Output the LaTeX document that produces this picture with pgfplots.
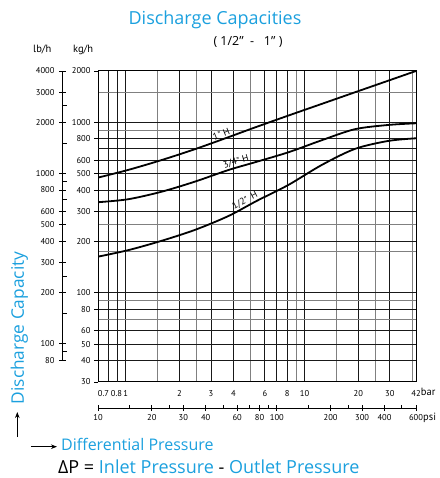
\documentclass[border=0pt]{standalone}
\usepackage{pgfplots}
\pgfplotsset{compat=1.18}
\usepackage{fontspec}
\setmainfont{Open Sans}
\newfontfamily\ptsans{PT Sans}
\usetikzlibrary{arrows.meta}
\definecolor{capblue}{RGB}{27,160,222}
\begin{document}
\begin{tikzpicture}
\useasboundingbox (-98pt,-96pt) rectangle (341pt,382pt);
% ---------------- main chart (bar / kg/h) ----------------
\begin{axis}[
  name=main, at={(0pt,0pt)}, anchor=south west,
  scale only axis, width=318pt, height=311pt,
  xmode=log, ymode=log, xmin=0.7, xmax=42, ymin=30, ymax=2000,
  xtick={0.7,0.8,1,2,3,4,6,8,10,20,30,42},
  xticklabels={\makebox[0pt][l]{0.7},\makebox[0pt][l]{\hspace{2.5pt}0.8},1,2,3,4,6,8,10,20,30,42},
  minor xtick={1.5,2.5,5,9,15,25,40},
  extra x ticks={0.9,7}, extra x tick labels={},
  extra x tick style={grid=major, major tick length=0pt},
  ytick={30,40,50,60,80,100,200,300,400,500,600,800,1000,2000},
  yticklabels={30,40,50,60,80,100,200,300,400,500,600,800,1000,2000},
  minor ytick={70,90,175,250,900,1500},
  extra y ticks={700}, extra y tick labels={},
  extra y tick style={grid=major, major tick length=0pt},
  grid=both,
  major grid style={black!90, line width=1pt},
  minor grid style={black!50, line width=1pt},
  minor tick length=0pt,
  tick align=outside, major tick length=4pt,
  xtick style={draw=none},
  ytick pos=left,
  ytick style={black, line width=0.9pt},
  axis line style={black, line width=1pt},
  tick label style={font=\ptsans\fontsize{8.5}{9}\selectfont},
  xticklabel style={yshift=-1pt},
]
\addplot[black, line width=1.8pt, smooth] coordinates {
 (0.7,474) (1.034,526) (1.59,601) (2.44,696) (3.75,818) (5.28,933)
 (8.11,1095) (12.47,1282) (19.1,1499) (29.4,1755) (42,2000)};
\addplot[black, line width=1.8pt, smooth] coordinates {
 (0.7,340) (1.034,354) (1.59,392) (2.44,449) (3.75,525) (5.28,583)
 (8.11,667) (12.47,785) (19.1,911) (29.4,965) (42,987)};
\addplot[black, line width=1.8pt, smooth] coordinates {
 (0.7,163) (1.034,178) (1.59,202) (2.44,234) (3.75,282) (5.4,346)
 (8.11,429) (12.47,562) (19.1,698) (29.4,778) (42,806)};
\node[rotate=22, anchor=south, font=\ptsans\fontsize{9.5}{9.5}\selectfont, inner sep=1.2pt] at (axis cs:3.5,800) {1" H};
\node[rotate=16, anchor=south, font=\ptsans\fontsize{9.5}{9.5}\selectfont, inner sep=1.2pt] at (axis cs:4.22,544) {3/4" H};
\node[rotate=28, anchor=south, font=\ptsans\fontsize{9.5}{9.5}\selectfont, inner sep=1.2pt] at (axis cs:4.8,324) {1/2"\hspace{4pt}H};
\end{axis}
% ---------------- lb/h scale ----------------
\begin{axis}[
  at={(-35pt,21.7pt)}, anchor=south west,
  scale only axis, width=10pt, height=289.3pt,
  ymode=log, ymin=80, ymax=4000, xmin=0, xmax=1,
  hide x axis, axis y line*=left,
  ytick={80,100,200,300,400,500,600,800,1000,2000,3000,4000},
  yticklabels={80,100,200,300,400,500,600,800,1000,2000,3000,4000},
  minor ytick={90,150,250,700,900,1500,2500},
  tick align=center, major tick length=7pt, minor tick length=4pt,
  minor tick style={xshift=2pt},
  axis line style={black, line width=1pt},
  tick style={black, line width=0.9pt},
  tick label style={font=\ptsans\fontsize{8.5}{9}\selectfont},
  yticklabel style={xshift=-1.5pt},
]
\end{axis}
% ---------------- psi scale ----------------
\begin{axis}[
  at={(0pt,-26pt)}, anchor=south west,
  scale only axis, width=318pt, height=10pt,
  xmode=log, xmin=10, xmax=600, ymin=0, ymax=1,
  hide y axis, axis x line*=bottom,
  xtick={10,20,30,40,60,80,100,200,300,400,600},
  xticklabels={10,20,30,40,60,80,100,200,300,400,600},
  minor xtick={15,25,50,70,90,150,250,500},
  tick align=center, major tick length=6pt, minor tick length=3.5pt,
  minor tick style={yshift=1.75pt},
  axis line style={black, line width=1pt},
  tick style={black, line width=0.9pt},
  tick label style={font=\ptsans\fontsize{8.5}{9}\selectfont},
]
\end{axis}
% ---------------- texts ----------------
\node[anchor=base west, inner sep=0pt, font=\ptsans\fontsize{10.5}{11}\selectfont] at (322.7pt,-14pt) {bar};
\node[anchor=base west, inner sep=0pt, font=\ptsans\fontsize{10.5}{11}\selectfont] at (325pt,-38.7pt) {psi};
\node[anchor=base, inner sep=0pt, text=capblue, font=\fontsize{18}{20}\selectfont] at (117pt,357pt) {Discharge Capacities};
\node[anchor=base, inner sep=0pt, font=\fontsize{12.5}{14}\selectfont] at (150pt,336pt) {(\ 1/2"\ \ -\ \ \ 1"\ )};
\node[anchor=base west, inner sep=0pt, font=\ptsans\fontsize{10.5}{11}\selectfont] at (-65pt,329pt) {lb/h};
\node[anchor=base west, inner sep=0pt, font=\ptsans\fontsize{10.5}{11}\selectfont] at (-25pt,329pt) {kg/h};
\node[rotate=90, anchor=base, inner sep=0pt, text=capblue, font=\fontsize{17.3}{19}\selectfont] at (-74pt,54pt) {Discharge Capacity};
\draw[-{Stealth[length=6pt,width=4.5pt]}, line width=1pt] (-80.7pt,-55pt) -- (-80.7pt,-30pt);
\draw[-{Stealth[length=6pt,width=4.5pt]}, line width=1pt] (-67pt,-64.7pt) -- (-41pt,-64.7pt);
\node[anchor=base west, inner sep=0pt, text=capblue, font=\fontsize{16}{18}\selectfont] at (-37pt,-68pt) {Differential Pressure};
\node[anchor=base west, inner sep=0pt, font=\fontsize{18}{20}\selectfont] at (-40pt,-91.3pt) {ΔP = \textcolor{capblue}{Inlet Pressure} - \textcolor{capblue}{Outlet Pressure}};
\end{tikzpicture}
\end{document}
